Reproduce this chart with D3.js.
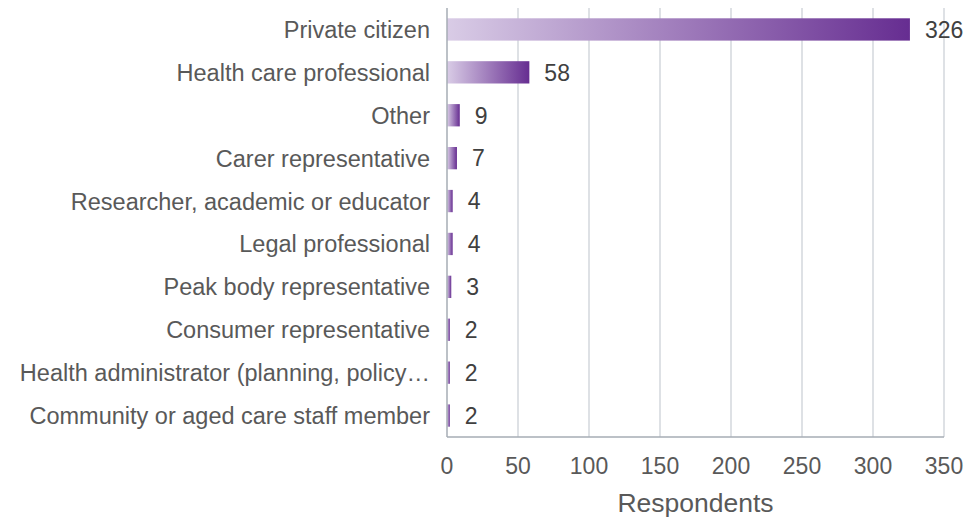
<!DOCTYPE html>
<html>
<head>
<meta charset="utf-8">
<script src="https://cdn.jsdelivr.net/npm/d3@7"></script>
<style>
  body { margin: 0; background: #fff; }
  text { font-family: "Liberation Sans", Arial, sans-serif; }
</style>
</head>
<body>
<script>
const categories = [
  "Private citizen",
  "Health care professional",
  "Other",
  "Carer representative",
  "Researcher, academic or educator",
  "Legal professional",
  "Peak body representative",
  "Consumer representative",
  "Health administrator (planning, policy…",
  "Community or aged care staff member"
];
const respondents = [326, 58, 9, 7, 4, 4, 3, 2, 2, 2];
const xTicks = [0, 50, 100, 150, 200, 250, 300, 350];
const xTitle = "Respondents";

const width = 968, height = 517;
const margin = { top: 8, right: 24, bottom: 80, left: 447 };

const svg = d3.select("body").append("svg")
  .attr("width", width)
  .attr("height", height);

// gradient for bars, light lavender to deep purple
const grad = svg.append("defs").append("linearGradient")
  .attr("id", "barGrad")
  .attr("x1", "0%").attr("x2", "100%")
  .attr("y1", "0%").attr("y2", "0%");
grad.append("stop").attr("offset", "0%").attr("stop-color", "#d9cce6");
grad.append("stop").attr("offset", "100%").attr("stop-color", "#662d91");

const x = d3.scaleLinear()
  .domain([0, 350])
  .range([margin.left, width - margin.right]);

const y = d3.scaleBand()
  .domain(categories)
  .range([margin.top, height - margin.bottom])
  .paddingInner(0.48)
  .paddingOuter(0.24);

// gridlines
svg.append("g")
  .selectAll("line")
  .data(xTicks.slice(1))
  .enter()
  .append("line")
  .attr("x1", d => x(d)).attr("x2", d => x(d))
  .attr("y1", margin.top).attr("y2", height - margin.bottom)
  .attr("stroke", "#d3d7dc")
  .attr("stroke-width", 1.5);

// bars
svg.append("g")
  .selectAll("rect")
  .data(respondents)
  .enter()
  .append("rect")
  .attr("x", x(0))
  .attr("y", (d, i) => y(categories[i]))
  .attr("width", d => x(d) - x(0))
  .attr("height", y.bandwidth())
  .attr("fill", "url(#barGrad)");

// value labels
svg.append("g")
  .selectAll("text")
  .data(respondents)
  .enter()
  .append("text")
  .attr("x", d => x(d) + 15)
  .attr("y", (d, i) => y(categories[i]) + y.bandwidth() / 2)
  .attr("dy", "0.36em")
  .attr("font-size", 23)
  .attr("fill", "#404040")
  .text(d => d);

// category labels
svg.append("g")
  .selectAll("text")
  .data(categories)
  .enter()
  .append("text")
  .attr("x", margin.left - 17)
  .attr("y", d => y(d) + y.bandwidth() / 2)
  .attr("dy", "0.36em")
  .attr("text-anchor", "end")
  .attr("font-size", 23.5)
  .attr("fill", "#595959")
  .text(d => d);

// axis lines
svg.append("line")
  .attr("x1", x(0)).attr("x2", x(0))
  .attr("y1", margin.top).attr("y2", height - margin.bottom)
  .attr("stroke", "#a6adb4").attr("stroke-width", 1.5);
svg.append("line")
  .attr("x1", x(0)).attr("x2", x(350))
  .attr("y1", height - margin.bottom).attr("y2", height - margin.bottom)
  .attr("stroke", "#a6adb4").attr("stroke-width", 1.5);

// x tick labels
svg.append("g")
  .selectAll("text")
  .data(xTicks)
  .enter()
  .append("text")
  .attr("x", d => x(d))
  .attr("y", height - margin.bottom + 37)
  .attr("text-anchor", "middle")
  .attr("font-size", 23)
  .attr("fill", "#595959")
  .text(d => d);

// axis title
svg.append("text")
  .attr("x", (x(0) + x(350)) / 2)
  .attr("y", height - 5)
  .attr("text-anchor", "middle")
  .attr("font-size", 26.5)
  .attr("fill", "#595959")
  .text(xTitle);
</script>
</body>
</html>
